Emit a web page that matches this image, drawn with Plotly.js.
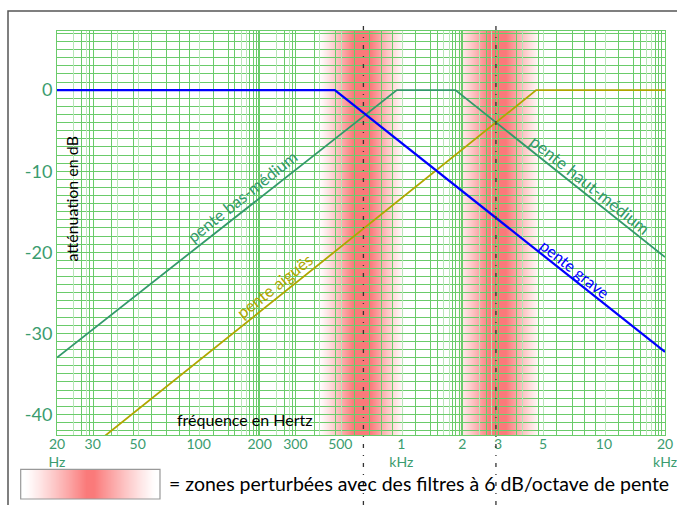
<!DOCTYPE html>
<html><head><meta charset="utf-8">
<script src="https://cdn.plot.ly/plotly-3.0.1.min.js"></script>
<style>html,body{margin:0;padding:0;background:#fff}#chart{width:677px;height:505px}</style>
</head><body><div id="chart"></div>
<script>
// ---- Data ----
const freqTicks = [20, 30, 50, 100, 200, 300, 500, 1000, 2000, 3000, 5000, 10000, 20000];
const freqTickText = ['20<br>Hz', '30', '50', '100', '200', '300', '500', '1<br>kHz', '2', '3', '5', '10', '20<br>kHz'];
const dbTicks = [-40, -30, -20, -10, 0];
const dbTickText = ['-40', '-30', '-20', '-10', '0'];

const graveFreq = [20, 470, 20000];
const graveDb = [0, 0, -32.3];
const mediumFreq = [20, 950, 1850, 20000];
const mediumDb = [-33, 0, 0, -20.6];
const aiguesFreq = [20, 4630, 20000];
const aiguesDb = [-47.4, 0, 0];
const crossFreqs = [650, 2930];
const bandCenters = [640, 3000];

const labelBas = 'pente bas-médium';
const labelHaut = 'pente haut-médium';
const labelAigues = 'pente aiguës';
const labelGrave = 'pente grave';
const yTitle = 'atténuation en dB';
const xTitle = 'fréquence en Hertz';
const legendText = '= zones perturbées avec des filtres à 6 dB/octave de pente';

// log-paper grid pattern (ratios within each decade starting at 20 Hz)
const gridDarkRatios = [1.0, 1.32, 1.45, 1.51, 1.86, 2.38, 2.93, 3.48, 4.0, 4.53, 5.9, 7.0, 7.55, 8.95, 9.3, 9.65, 9.9];
const gridLightRatios = [1.21, 1.40, 1.98, 2.52, 5.07, 8.1, 8.6];

// ---- Layout helpers ----
const W = 677, H = 505, ML = 57, MR = 12, MT = 31, MB = 70;
const PW = W - ML - MR, PH = H - MT - MB;
const px2x = p => (p - ML) / PW;
const py2y = p => (H - MB - p) / PH;
const XMIN = 20, XMAX = 20000;
const xr = [Math.log10(XMIN), Math.log10(XMAX)];
const f2paper = f => (Math.log10(f) - xr[0]) / (xr[1] - xr[0]);

const GREEN = '#33996b', OLIVE = '#b0a600', BLUE = '#0000ff';
const TICKC = '#3a9c6e';
const GRID = '#6acb6a', GRIDL = '#b8e6b8';
const FONT = 'Lato, Carlito, "Open Sans", sans-serif';

const darkGrid = [], lightGrid = [];
[20, 200, 2000].forEach(b => {
  gridDarkRatios.forEach(r => darkGrid.push(b * r));
  gridLightRatios.forEach(r => lightGrid.push(b * r));
});
darkGrid.push(20000);
const minorDb = [];
for (let v = -42; v <= 7; v++) minorDb.push(v);

const RED = [250, 122, 122];
function gradientURL(n, intensityAt) {
  const cv = document.createElement('canvas');
  cv.width = n; cv.height = 1;
  const ctx = cv.getContext('2d');
  const img = ctx.createImageData(n, 1);
  for (let c = 0; c < n; c++) {
    const t = intensityAt((c + 0.5) / n);
    img.data[4 * c] = Math.round(255 + (RED[0] - 255) * t);
    img.data[4 * c + 1] = Math.round(255 + (RED[1] - 255) * t);
    img.data[4 * c + 2] = Math.round(255 + (RED[2] - 255) * t);
    img.data[4 * c + 3] = 255;
  }
  ctx.putImageData(img, 0, 0);
  return cv.toDataURL('image/png');
}

// perturbed zones around each crossover (half-widths in decades)
const CORE = 0.04, EDGE = 0.21;
const bandURL = gradientURL(PW, u => {
  const lf = xr[0] + u * (xr[1] - xr[0]);
  let t = 0;
  bandCenters.forEach(fc => {
    const d = Math.abs(lf - Math.log10(fc));
    const v = d <= CORE ? 1 : (d >= EDGE ? 0 : Math.pow(1 - (d - CORE) / (EDGE - CORE), 1.15));
    t = Math.max(t, v);
  });
  return t;
});
const legURL = gradientURL(140, u => {
  const d = Math.abs(u - 0.5) * 2;
  return d < 0.05 ? 1 : (d > 0.93 ? 0 : Math.pow(1 - (d - 0.05) / 0.88, 1.15));
});

const LX0 = 20.7, LX1 = 160, LY0 = 469.3, LY1 = 499;
const images = [
  {source: bandURL, xref: 'paper', yref: 'paper', x: 0, y: 1, sizex: 1, sizey: 1, sizing: 'stretch',
    xanchor: 'left', yanchor: 'top', layer: 'below'},
  {source: legURL, xref: 'paper', yref: 'paper', x: px2x(LX0), y: py2y(LY0), sizex: px2x(LX1) - px2x(LX0),
    sizey: py2y(LY0) - py2y(LY1), sizing: 'stretch', xanchor: 'left', yanchor: 'top', layer: 'above'}
];

const shapes = [];
shapes.push({type: 'rect', xref: 'paper', yref: 'paper', x0: px2x(LX0), x1: px2x(LX1), y0: py2y(LY0), y1: py2y(LY1),
  line: {color: '#999', width: 1.2}, fillcolor: 'rgba(0,0,0,0)', layer: 'above'});
// outer frame
shapes.push({type: 'rect', xref: 'paper', yref: 'paper', x0: px2x(8), x1: px2x(700), y0: py2y(11), y1: py2y(530),
  line: {color: '#555', width: 1.5}, fillcolor: 'rgba(0,0,0,0)', layer: 'above'});
// crossover dash-dot lines
crossFreqs.forEach(fc => {
  const xp = f2paper(fc);
  shapes.push({type: 'line', xref: 'paper', yref: 'paper', x0: xp, x1: xp, y0: py2y(505), y1: py2y(20),
    line: {color: '#333', width: 1.3, dash: '4px,7px,1px,7px'}, layer: 'above'});
});

const ang = 38.6;
const annotations = [
  {text: yTitle, x: px2x(71), y: py2y(198.5), textangle: -90, font: {size: 16, color: '#000'}},
  {text: xTitle, x: px2x(245), y: py2y(419), font: {size: 16, color: '#000'}},
  {text: labelBas, x: px2x(242), y: py2y(197), textangle: -ang, font: {size: 16.5, color: GREEN}},
  {text: labelAigues, x: px2x(275), y: py2y(286), textangle: -ang, font: {size: 16.5, color: OLIVE}},
  {text: labelHaut, x: px2x(590), y: py2y(184), textangle: ang, font: {size: 17, color: GREEN}},
  {text: labelGrave, x: px2x(575), y: py2y(268), textangle: ang, font: {size: 16, color: BLUE}},
  {text: legendText, x: px2x(167), y: py2y(484), xanchor: 'left', font: {size: 19.5, color: '#000'}}
].map(a => Object.assign({xref: 'paper', yref: 'paper', showarrow: false, xanchor: 'center', yanchor: 'middle'}, a,
  {font: Object.assign({family: FONT}, a.font)}));

const traces = [
  {x: [20], y: [0], xaxis: 'x2', yaxis: 'y', mode: 'markers', marker: {opacity: 0}, hoverinfo: 'skip', showlegend: false},
  {x: mediumFreq, y: mediumDb, mode: 'lines', line: {color: GREEN, width: 1.8}, name: 'médium'},
  {x: aiguesFreq, y: aiguesDb, mode: 'lines', line: {color: OLIVE, width: 1.8}, name: 'aiguës'},
  {x: graveFreq, y: graveDb, mode: 'lines', line: {color: BLUE, width: 2.2}, name: 'grave'}
];

const layout = {
  width: W, height: H,
  margin: {l: ML, r: MR, t: MT, b: MB, pad: 0},
  paper_bgcolor: '#fff', plot_bgcolor: '#fff',
  showlegend: false,
  font: {family: FONT},
  xaxis: {type: 'log', range: xr, tickmode: 'array', tickvals: freqTicks, ticktext: freqTickText,
    showgrid: false, zeroline: false, showline: true, mirror: true, linecolor: GRID, linewidth: 1,
    ticks: '', ticklabelstandoff: -4, tickfont: {family: FONT, size: 14, color: TICKC}, fixedrange: true},
  xaxis2: {type: 'log', range: xr, overlaying: 'x', anchor: 'y', tickmode: 'array', tickvals: darkGrid,
    showticklabels: false, ticks: '', showgrid: true, gridcolor: GRID, gridwidth: 1, zeroline: false, showline: false,
    minor: {tickmode: 'array', tickvals: lightGrid, showgrid: true, gridcolor: GRIDL, gridwidth: 1, ticks: ''}},
  yaxis: {range: [-42.55, 7.3], tickmode: 'array', tickvals: dbTicks, ticktext: dbTickText,
    showgrid: true, gridcolor: GRID, gridwidth: 1, zeroline: false, showline: true, mirror: true, linecolor: GRID,
    ticks: '', tickfont: {family: FONT, size: 18, color: TICKC},
    minor: {tickmode: 'array', tickvals: minorDb, showgrid: true, gridcolor: GRID, gridwidth: 1, ticks: ''}},
  images: images,
  shapes: shapes,
  annotations: annotations
};
Plotly.newPlot('chart', traces, layout, {displayModeBar: false, staticPlot: true});
</script>
</body></html>
